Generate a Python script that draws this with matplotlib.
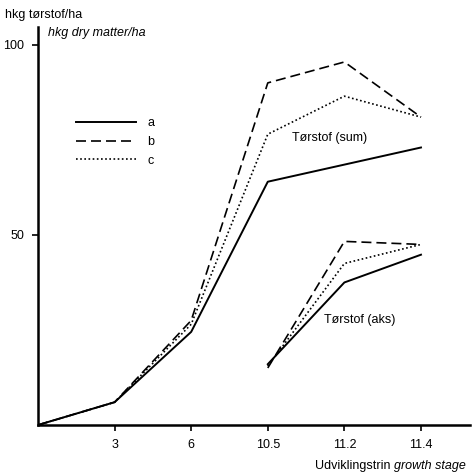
import matplotlib
matplotlib.use("Agg")
import matplotlib.pyplot as plt
import numpy as np

plt.rcParams['font.family'] = ['Liberation Sans', 'DejaVu Sans']

# categories (growth stages); first point is the origin
stage_labels = ['3', '6', '10.5', '11.2', '11.4']

# dry matter total (sum), hkg/ha, at origin + stages
sum_a = [0, 6, 24.5, 64, 68.5, 73]
sum_b = [0, 6, 27.5, 90, 95.5, 81]
sum_c = [0, 6, 26.5, 76.5, 86.5, 81]

# dry matter in ears (aks), at stages 10.5, 11.2, 11.4
aks_a = [16, 37.5, 44.8]
aks_b = [15, 48.3, 47.5]
aks_c = [15.5, 42.5, 47.5]

series_labels = ['a', 'b', 'c']

FS = 9

fig = plt.figure(figsize=(4.72, 4.74), dpi=100)
ax = fig.add_axes([38/472, 49/474, 432/472, 398/474])

x_sum = np.arange(len(sum_a))
x_aks = np.arange(len(sum_a) - len(aks_a), len(sum_a))

styles = [dict(ls='-', lw=1.4),
          dict(ls=(0, (6, 3)), lw=1.2),
          dict(ls=(0, (1, 1.5)), lw=1.2)]

for vals, lab, st in zip([sum_a, sum_b, sum_c], series_labels, styles):
    ax.plot(x_sum, vals, color='black', label=lab, **st)
for vals, st in zip([aks_a, aks_b, aks_c], styles):
    ax.plot(x_aks, vals, color='black', **st)

ax.set_xlim(0, 5.64)
ax.set_ylim(0, 104.7)
ax.set_xticks(np.arange(1, len(stage_labels) + 1))
ax.set_xticklabels(stage_labels)
ax.set_yticks([50, 100])
ax.set_yticklabels(['50', '100'])

for s in ['top', 'right']:
    ax.spines[s].set_visible(False)
for s in ['left', 'bottom']:
    ax.spines[s].set_linewidth(1.8)
ax.tick_params(axis='both', direction='out', length=4, width=1.2, labelsize=FS, pad=6)

ax.text(3.8, 75.5, 'Tørstof (sum)', fontsize=FS, ha='center', va='center')
ax.text(4.2, 27.6, 'Tørstof (aks)', fontsize=FS, ha='center', va='center')

fig.text(5/472, 1 - 15/474, 'hkg tørstof/ha', fontsize=FS, ha='left', va='center')
fig.text(48/472, 1 - 33/474, 'hkg dry matter/ha', fontsize=FS, style='italic',
         ha='left', va='center')

t2 = fig.text(466/472, 1 - 466/474, 'growth stage', fontsize=FS, style='italic',
              ha='right', va='center')
fig.canvas.draw()
bb = t2.get_window_extent(renderer=fig.canvas.get_renderer())
fig.text(bb.x0 / fig.bbox.width - 4/472, 1 - 466/474, 'Udviklingstrin', fontsize=FS,
         ha='right', va='center')

leg = ax.legend(loc='upper left', bbox_to_anchor=(76/472, 1 - 117/474),
                bbox_transform=fig.transFigure, frameon=False, fontsize=FS,
                handlelength=4.8, handletextpad=0.9, labelspacing=0.55,
                borderpad=0, borderaxespad=0)

fig.savefig('out.png', dpi=100)
